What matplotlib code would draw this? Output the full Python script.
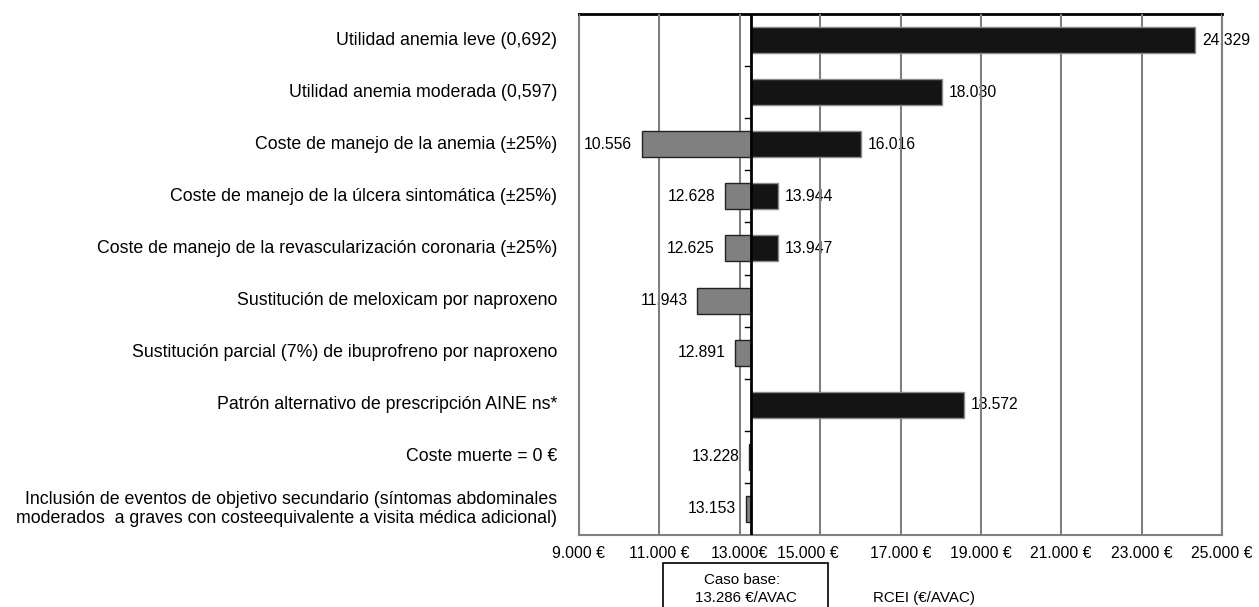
import matplotlib.pyplot as plt
from matplotlib.patches import Rectangle
from matplotlib.transforms import blended_transform_factory, ScaledTranslation

plt.rcParams['font.family'] = ['Liberation Sans', 'DejaVu Sans']

# data
categories = [
    "Utilidad anemia leve (0,692)",
    "Utilidad anemia moderada (0,597)",
    "Coste de manejo de la anemia (\u00b125%)",
    "Coste de manejo de la \u00falcera sintom\u00e1tica (\u00b125%)",
    "Coste de manejo de la revascularizaci\u00f3n coronaria (\u00b125%)",
    "Sustituci\u00f3n de meloxicam por naproxeno",
    "Sustituci\u00f3n parcial (7%) de ibuprofreno por naproxeno",
    "Patr\u00f3n alternativo de prescripci\u00f3n AINE ns*",
    "Coste muerte = 0 \u20ac",
    "Inclusi\u00f3n de eventos de objetivo secundario (s\u00edntomas abdominales\n"
    "moderados  a graves con costeequivalente a visita m\u00e9dica adicional)",
]
base_case = 13286
low_values = [None, None, 10556, 12628, 12625, 11943, 12891, None, 13228, 13153]
high_values = [24329, 18030, 16016, 13944, 13947, None, None, 18572, None, None]

x_ticks = [9000, 11000, 13000, 15000, 17000, 19000, 21000, 23000, 25000]
x_tick_labels = ["9.000 \u20ac", "11.000 \u20ac", "13.000\u20ac", "15.000 \u20ac", "17.000 \u20ac",
                 "19.000 \u20ac", "21.000 \u20ac", "23.000 \u20ac", "25.000 \u20ac"]


def fmt(v):
    return f"{v:,}".replace(",", ".")


W, H = 1259, 607
fig = plt.figure(figsize=(W / 100, H / 100), dpi=100)
ax = fig.add_axes([579 / W, 1 - 535 / H, (1222 - 579) / W, (535 - 14) / H])

n = len(categories)
ys = list(range(n))
bar_h = 0.5

for i in ys:
    lo, hi = low_values[i], high_values[i]
    if lo is not None:
        ax.barh(i, lo - base_case, left=base_case, height=bar_h, color='#808080',
                edgecolor='#222222', linewidth=1, zorder=4)
        ax.annotate(fmt(lo), (lo, i), xytext=(-7, 0), textcoords='offset points',
                    ha='right', va='center', fontsize=11.3, zorder=2)
    if hi is not None:
        ax.barh(i, hi - base_case, left=base_case, height=bar_h, color='#141414',
                edgecolor='#8a8a8a', linewidth=1, zorder=4)
        ax.annotate(fmt(hi), (hi, i), xytext=(5, 0), textcoords='offset points',
                    ha='left', va='center', fontsize=11.3, zorder=2)

ax.set_xlim(9000, 25000)
ax.set_ylim(n - 0.5, -0.5)

for x in x_ticks:
    ax.axvline(x, color='#808080', linewidth=1.5, zorder=3)

ax.axvline(base_case, color='black', linewidth=2, zorder=5)

# small ticks on the base line between categories
for b in [k + 0.5 for k in range(n - 1)]:
    ax.plot([base_case - 150, base_case], [b, b], color='black', linewidth=1, zorder=5)

ax.set_xticks(x_ticks)
ax.set_xticklabels(x_tick_labels, fontsize=11.3)
ax.tick_params(axis='x', length=0, pad=8)
ax.set_yticks([])
# the 15.000 label sits a little to the left in the reference
lbl15 = ax.get_xticklabels()[3]
lbl15.set_transform(lbl15.get_transform() + ScaledTranslation(-12 / 100, 0, fig.dpi_scale_trans))

for side in ['left', 'right', 'bottom']:
    ax.spines[side].set_color('#808080')
    ax.spines[side].set_linewidth(1.5)
ax.spines['top'].set_color('black')
ax.spines['top'].set_linewidth(2)

trans = blended_transform_factory(ax.transAxes, ax.transData)
for i, label in enumerate(categories):
    ax.text(-(579 - 557) / (1222 - 579), i, label, transform=trans, ha='right', va='center',
            fontsize=12.8, linespacing=1.15)

# base case box below the axis
box = Rectangle((663 / W, -0.05), (828 - 663) / W, 0.05 + (607 - 563) / H,
                transform=fig.transFigure, fill=False, edgecolor='black', linewidth=1.2,
                clip_on=False)
fig.add_artist(box)
fig.text(742 / W, 1 - 580 / H, "Caso base:", ha='center', va='center', fontsize=10.9)
fig.text(746 / W, 1 - 598 / H, "13.286 \u20ac/AVAC", ha='center', va='center', fontsize=10.9)
fig.text(873 / W, 1 - 598 / H, "RCEI (\u20ac/AVAC)", ha='left', va='center', fontsize=10.9)

fig.savefig("out.png", dpi=100)
